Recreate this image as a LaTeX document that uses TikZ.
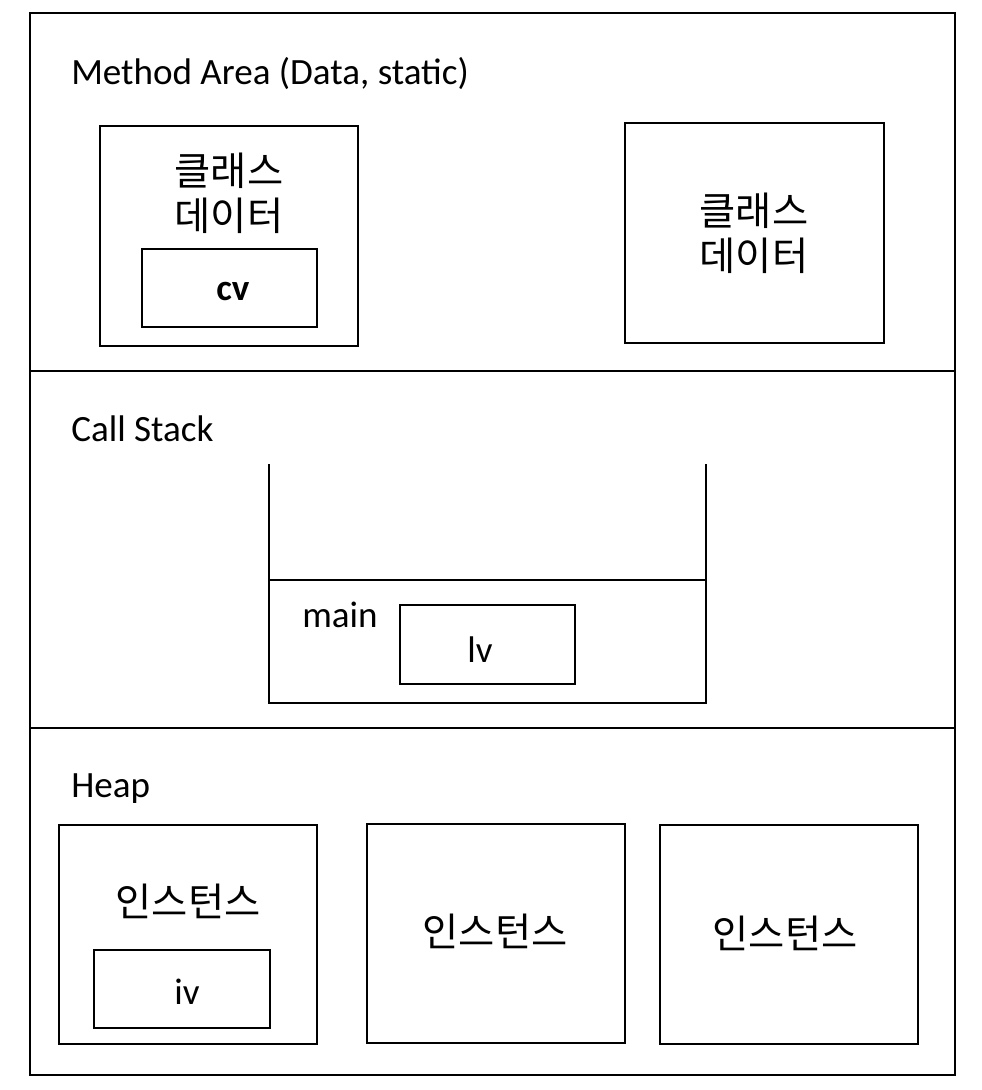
\documentclass[tikz,border=0pt]{standalone}
\usepackage{fontspec}
\setmainfont{Carlito}
\newfontfamily\kr{Noto Sans CJK KR}
\usetikzlibrary{fit}

\tikzset{
  box/.style={draw, line width=1.4pt, inner sep=0pt},
  area/.style={anchor=west, inner sep=0pt, font=\fontsize{27.8}{34}\selectfont},
  krtext/.style={align=center, inner sep=0pt, font=\kr\fontsize{29.5}{33.75}\selectfont},
  var/.style={inner sep=0pt, font=\fontsize{27.8}{34}\selectfont},
}

\begin{document}
\begin{tikzpicture}[x=0.75pt, y=-0.75pt]
    \useasboundingbox (0,0) rectangle (982,1090);

    % The three memory areas
    \node[box, fit={(30,13) (955,371)}] (method) {};
    \node[box, fit={(30,371) (955,728)}] (callstack) {};
    \node[box, fit={(30,728) (955,1075)}] (heap) {};

    % Method Area
    \node[area] (methodlbl) at (71,74) {Method Area (Data, static)};
    \node[box, fit={(100,126) (358,346)}] (class1) {};
    \node[krtext] (class1lbl) at (229,193) {클래스\\데이터};
    \node[box, fit={(142,249) (317,327)}] (cvbox) {};
    \node[var, font=\bfseries\fontsize{27.8}{34}\selectfont] (cv) at (233,291) {cv};
    \node[box, fit={(625,123) (884,343)}] (class2) {};
    \node[krtext] (class2lbl) at (754,233) {클래스\\데이터};

    % Call Stack
    \node[area] (stacklbl) at (71,429) {Call Stack};
    \draw[line width=1.4pt] (269,464) -- (269,703) -- (706,703) -- (706,464);
    \draw[line width=1.4pt] (269,580) -- (706,580);
    \node[area] (mainlbl) at (302,615) {main};
    \node[box, fit={(400,605) (575,684)}] (lvbox) {};
    \node[var] (lv) at (480,650) {lv};

    % Heap
    \node[area] (heaplbl) at (71,789) {Heap};
    \node[box, fit={(59,825) (317,1044)}] (inst1) {};
    \node[krtext] (inst1lbl) at (188,901) {인스턴스};
    \node[box, fit={(94,950) (270,1028)}] (ivbox) {};
    \node[var] (iv) at (187,992) {iv};
    \node[box, fit={(367,824) (625,1043)}] (inst2) {};
    \node[krtext] (inst2lbl) at (495,931) {인스턴스};
    \node[box, fit={(660,825) (918,1044)}] (inst3) {};
    \node[krtext] (inst3lbl) at (785,933) {인스턴스};
\end{tikzpicture}
\end{document}
